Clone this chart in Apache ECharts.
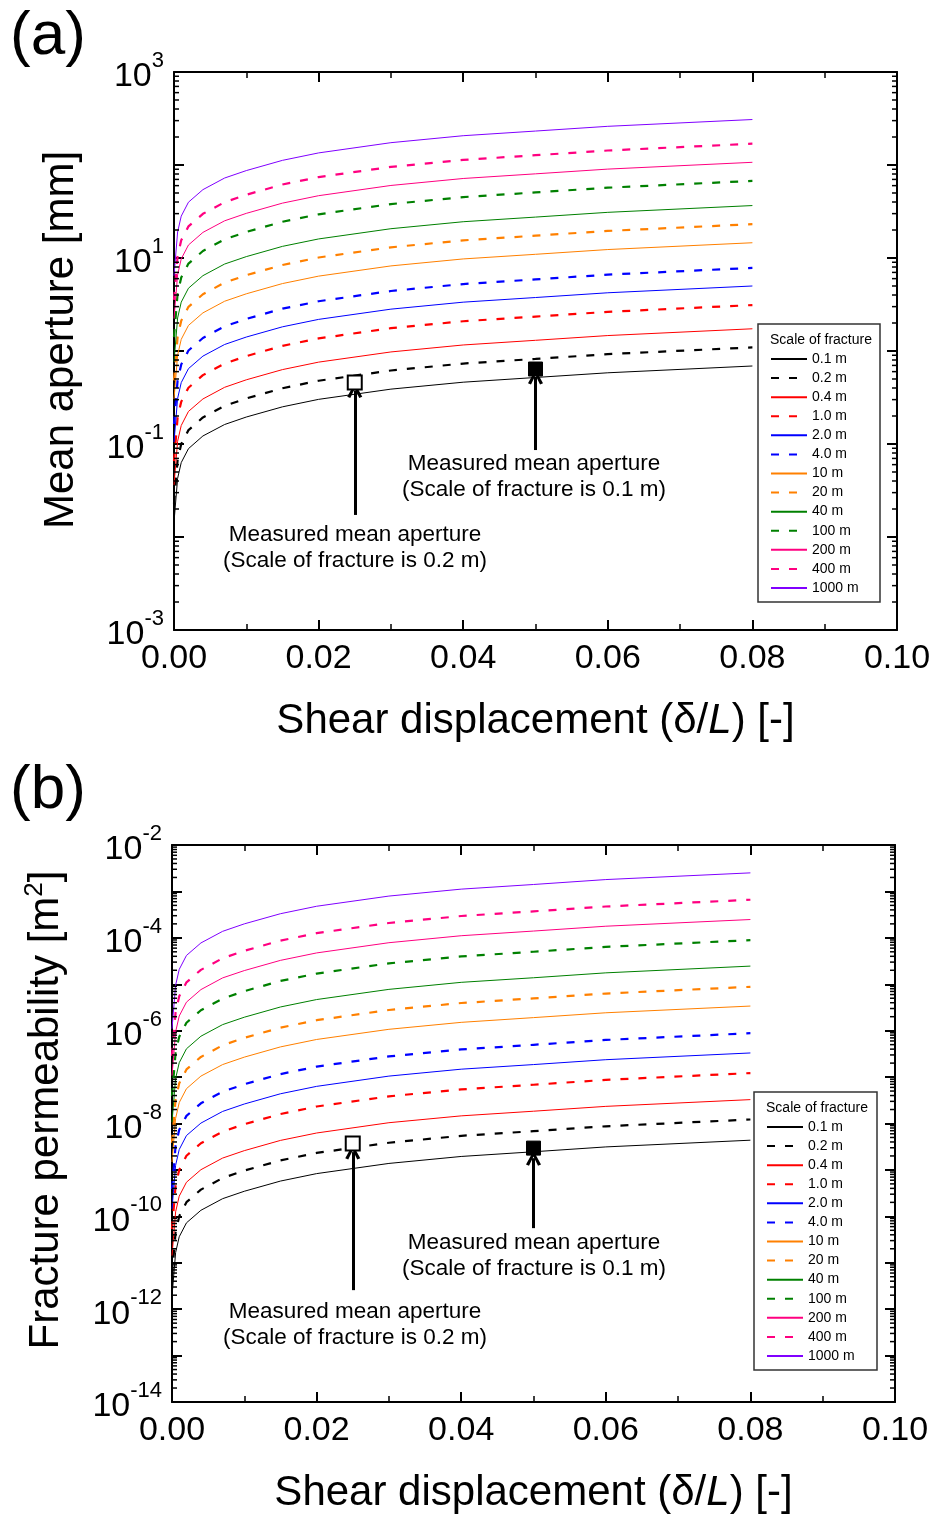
<!DOCTYPE html>
<html>
<head>
<meta charset="utf-8">
<script src="https://cdn.jsdelivr.net/npm/echarts@6/dist/echarts.min.js"></script>
<style>
  html, body { margin: 0; padding: 0; background: #fff; }
  #chart { width: 935px; height: 1517px; }
</style>
</head>
<body>
<div id="chart"></div>
<script>
// Normalised shear displacement (delta / L) at which each curve is sampled
const shearDisplacement = [0, 0.0005, 0.001, 0.002, 0.004, 0.007, 0.01, 0.015, 0.02, 0.03, 0.04, 0.05, 0.06, 0.08];

// Fracture scales shown in the legend
const fractureScales = ['0.1 m', '0.2 m', '0.4 m', '1.0 m', '2.0 m', '4.0 m', '10 m', '20 m', '40 m', '100 m', '200 m', '400 m', '1000 m'];

// Mean aperture [mm] for each fracture scale
const aperture01m  = [0.0145, 0.0427, 0.0631, 0.0891, 0.122, 0.162, 0.195, 0.251, 0.302, 0.389, 0.462, 0.519, 0.583, 0.690];
const aperture02m  = [0.0229, 0.0676, 0.100, 0.141, 0.193, 0.257, 0.309, 0.398, 0.479, 0.617, 0.733, 0.822, 0.925, 1.094];
const aperture04m  = [0.0363, 0.107, 0.158, 0.224, 0.305, 0.407, 0.490, 0.631, 0.759, 0.977, 1.161, 1.303, 1.466, 1.734];
const aperture1m   = [0.0653, 0.193, 0.285, 0.403, 0.550, 0.733, 0.881, 1.135, 1.365, 1.758, 2.089, 2.344, 2.636, 3.119];
const aperture2m   = [0.105, 0.309, 0.457, 0.646, 0.881, 1.175, 1.413, 1.820, 2.188, 2.818, 3.350, 3.758, 4.227, 5.000];
const aperture4m   = [0.164, 0.484, 0.716, 1.012, 1.380, 1.841, 2.213, 2.851, 3.428, 4.416, 5.248, 5.888, 6.622, 7.834];
const aperture10m  = [0.305, 0.902, 1.334, 1.884, 2.570, 3.428, 4.121, 5.309, 6.383, 8.222, 9.772, 10.96, 12.33, 14.59];
const aperture20m  = [0.484, 1.429, 2.113, 2.985, 4.074, 5.433, 6.531, 8.414, 10.12, 13.03, 15.49, 17.38, 19.54, 23.12];
const aperture40m  = [0.767, 2.265, 3.350, 4.732, 6.457, 8.610, 10.35, 13.34, 16.03, 20.65, 24.55, 27.54, 30.97, 36.64];
const aperture100m = [1.413, 4.169, 6.166, 8.710, 11.89, 15.85, 19.05, 24.55, 29.51, 38.02, 45.19, 50.70, 57.02, 67.45];
const aperture200m = [2.239, 6.607, 9.772, 13.80, 18.84, 25.12, 30.20, 38.90, 46.77, 60.26, 71.61, 80.35, 90.36, 106.9];
const aperture400m = [3.548, 10.47, 15.49, 21.88, 29.85, 39.81, 47.86, 61.66, 74.13, 95.50, 113.5, 127.4, 143.2, 169.4];
const aperture1000m = [6.457, 19.05, 28.18, 39.81, 54.33, 72.44, 87.10, 112.2, 134.9, 173.8, 206.5, 231.7, 260.6, 308.3];

// Fracture permeability [m^2] for each fracture scale
const permeability01m  = [1.91e-12, 1.66e-11, 3.63e-11, 7.24e-11, 1.35e-10, 2.40e-10, 3.47e-10, 5.75e-10, 8.32e-10, 1.38e-9, 1.95e-9, 2.46e-9, 3.13e-9, 4.37e-9];
const permeability02m  = [5.31e-12, 4.62e-11, 1.01e-10, 2.02e-10, 3.76e-10, 6.68e-10, 9.66e-10, 1.60e-9, 2.32e-9, 3.85e-9, 5.43e-9, 6.84e-9, 8.71e-9, 1.22e-8];
const permeability04m  = [1.43e-11, 1.25e-10, 2.72e-10, 5.43e-10, 1.01e-9, 1.80e-9, 2.60e-9, 4.32e-9, 6.24e-9, 1.04e-8, 1.46e-8, 1.84e-8, 2.34e-8, 3.27e-8];
const permeability1m   = [5.31e-11, 4.62e-10, 1.01e-9, 2.02e-9, 3.76e-9, 6.68e-9, 9.66e-9, 1.60e-8, 2.32e-8, 3.85e-8, 5.43e-8, 6.84e-8, 8.71e-8, 1.22e-7];
const permeability2m   = [1.45e-10, 1.26e-9, 2.75e-9, 5.50e-9, 1.02e-8, 1.82e-8, 2.63e-8, 4.37e-8, 6.31e-8, 1.05e-7, 1.48e-7, 1.86e-7, 2.37e-7, 3.31e-7];
const permeability4m   = [3.85e-10, 3.35e-9, 7.33e-9, 1.46e-8, 2.72e-8, 4.84e-8, 7.00e-8, 1.16e-7, 1.68e-7, 2.79e-7, 3.94e-7, 4.96e-7, 6.31e-7, 8.81e-7];
const permeability10m  = [1.48e-9, 1.29e-8, 2.82e-8, 5.62e-8, 1.05e-7, 1.86e-7, 2.69e-7, 4.47e-7, 6.46e-7, 1.07e-6, 1.51e-6, 1.91e-6, 2.43e-6, 3.39e-6];
const permeability20m  = [3.85e-9, 3.35e-8, 7.33e-8, 1.46e-7, 2.72e-7, 4.84e-7, 7.00e-7, 1.16e-6, 1.68e-6, 2.79e-6, 3.94e-6, 4.96e-6, 6.31e-6, 8.81e-6];
const permeability40m  = [1.07e-8, 9.33e-8, 2.04e-7, 4.07e-7, 7.59e-7, 1.35e-6, 1.95e-6, 3.24e-6, 4.68e-6, 7.76e-6, 1.10e-5, 1.38e-5, 1.76e-5, 2.46e-5];
const permeability100m = [3.89e-8, 3.39e-7, 7.41e-7, 1.48e-6, 2.75e-6, 4.90e-6, 7.08e-6, 1.18e-5, 1.70e-5, 2.82e-5, 3.98e-5, 5.01e-5, 6.38e-5, 8.91e-5];
const permeability200m = [1.08e-7, 9.44e-7, 2.07e-6, 4.12e-6, 7.67e-6, 1.37e-5, 1.97e-5, 3.27e-5, 4.73e-5, 7.85e-5, 1.11e-4, 1.40e-4, 1.78e-4, 2.48e-4];
const permeability400m = [2.88e-7, 2.51e-6, 5.50e-6, 1.10e-5, 2.04e-5, 3.63e-5, 5.25e-5, 8.71e-5, 1.26e-4, 2.09e-4, 2.95e-4, 3.72e-4, 4.73e-4, 6.61e-4];
const permeability1000m = [1.10e-6, 9.55e-6, 2.09e-5, 4.17e-5, 7.76e-5, 1.38e-4, 2.00e-4, 3.31e-4, 4.79e-4, 7.94e-4, 1.12e-3, 1.41e-3, 1.80e-3, 2.51e-3];

// Laboratory measurements: 0.2 m sample (open square) and 0.1 m sample (filled square)
const measuredShear = [0.025, 0.05];
const measuredApertureMm = [0.458, 0.640];
const measuredPermeability = [3.72e-9, 2.95e-9];

// Tick labels
const shearTickLabels = ['0.00', '0.02', '0.04', '0.06', '0.08', '0.10'];
// Minor log ticks inside each decade
const logMinorMultipliers = [2, 3, 4, 5, 6, 7, 8, 9];

const apertureSeries = [aperture01m, aperture02m, aperture04m, aperture1m, aperture2m, aperture4m, aperture10m,
  aperture20m, aperture40m, aperture100m, aperture200m, aperture400m, aperture1000m];
const permeabilitySeries = [permeability01m, permeability02m, permeability04m, permeability1m, permeability2m,
  permeability4m, permeability10m, permeability20m, permeability40m, permeability100m, permeability200m,
  permeability400m, permeability1000m];

const lineColors = ['#000000', '#000000', '#ff0000', '#ff0000', '#0000ff', '#0000ff', '#ff8000', '#ff8000',
  '#008000', '#008000', '#ff0080', '#ff0080', '#8000ff'];
const dashed = [false, true, false, true, false, true, false, true, false, true, false, true, false];

const FONT = "'Liberation Sans', Arial, Helvetica, sans-serif";

function curveSeries(valueSets, gridIdx) {
  return valueSets.map((vals, i) => ({
    name: fractureScales[i],
    type: 'line',
    xAxisIndex: gridIdx * 2,
    yAxisIndex: gridIdx * 2,
    data: shearDisplacement.map((x, j) => [x, vals[j]]),
    symbol: 'none',
    showSymbol: false,
    smooth: false,
    silent: true,
    z: 3,
    lineStyle: {
      color: lineColors[i],
      width: dashed[i] ? 2.2 : 1,
      type: dashed[i] ? [8, 10] : 'solid'
    },
    itemStyle: { color: lineColors[i] }
  }));
}

function xAxisPair(gridIdx) {
  const common = {
    type: 'value', gridIndex: gridIdx, min: 0, max: 0.1, interval: 0.02,
    axisLine: { show: true, onZero: false, lineStyle: { color: '#000', width: 2 } },
    axisTick: { show: true, inside: true, length: 10, lineStyle: { color: '#000', width: 2 } },
    minorTick: { show: true, splitNumber: 2, length: 6, lineStyle: { color: '#000', width: 1.5 } },
    splitLine: { show: false }, minorSplitLine: { show: false }
  };
  return [
    Object.assign({}, common, {
      position: 'bottom',
      axisLabel: {
        show: true, margin: 12, fontSize: 34, color: '#000', fontFamily: FONT,
        formatter: v => shearTickLabels[Math.round(v / 0.02)]
      },
      name: 'Shear displacement (δ/{i|L}) [-]',
      nameLocation: 'middle', nameGap: 70,
      nameTextStyle: {
        fontSize: 42, color: '#000', fontFamily: FONT,
        rich: { i: { fontSize: 42, fontStyle: 'italic', color: '#000', fontFamily: FONT } }
      }
    }),
    Object.assign({}, common, { position: 'top', axisLabel: { show: false } })
  ];
}

function yAxisPair(gridIdx, min, max, oddLabels, name, nameGap, namePad) {
  const common = {
    type: 'log', logBase: 10, gridIndex: gridIdx, min: min, max: max,
    interval: 1,
    splitNumber: Math.round(Math.log10(max / min)),
    axisLine: { show: true, onZero: false, lineStyle: { color: '#000', width: 2 } },
    axisTick: { show: true, inside: true, length: 10, lineStyle: { color: '#000', width: 2 } },
    minorTick: { show: false },
    splitLine: { show: false }, minorSplitLine: { show: false }
  };
  return [
    Object.assign({}, common, {
      position: 'left',
      axisLabel: {
        show: true, margin: 10, color: '#000', fontFamily: FONT,
        formatter: v => {
          const e = Math.round(Math.log10(v));
          const show = oddLabels ? (Math.abs(e) % 2 === 1) : (e % 2 === 0);
          return show ? '{b|10}{s|' + e + '}' : '';
        },
        rich: {
          b: { fontSize: 34, fontFamily: FONT, color: '#000', verticalAlign: 'bottom', lineHeight: 44 },
          s: { fontSize: 22, fontFamily: FONT, color: '#000', verticalAlign: 'top', lineHeight: 44 }
        }
      },
      name: name, nameLocation: 'middle', nameGap: nameGap,
      nameTextStyle: {
        fontSize: 42, color: '#000', fontFamily: FONT, padding: namePad,
        rich: { s: { fontSize: 26, fontFamily: FONT, color: '#000', verticalAlign: 'top', lineHeight: 48 } }
      }
    }),
    Object.assign({}, common, { position: 'right', axisLabel: { show: false } })
  ];
}

// Log-spaced minor ticks (2..9 x 10^k) on both vertical frame edges
function minorTickSeries(gridIdx, firstExp, lastExp) {
  const values = [];
  for (let e = firstExp; e < lastExp; e++) {
    logMinorMultipliers.forEach(m => values.push([0, m * Math.pow(10, e)]));
  }
  return {
    type: 'custom', xAxisIndex: gridIdx * 2, yAxisIndex: gridIdx * 2, silent: true, z: 4,
    data: values,
    clip: false,
    renderItem: (params, api) => {
      const v = api.value(1);
      const left = api.coord([0, v]);
      const right = api.coord([0.1, v]);
      const st = { stroke: '#000', lineWidth: 1.5 };
      return {
        type: 'group',
        children: [
          { type: 'line', shape: { x1: left[0], y1: left[1], x2: left[0] + 5, y2: left[1] }, style: st },
          { type: 'line', shape: { x1: right[0], y1: right[1], x2: right[0] - 5, y2: right[1] }, style: st }
        ]
      };
    }
  };
}

function measuredSeries(gridIdx, values) {
  const pts = measuredShear.map((x, i) => [x, values[i]]);
  return [
    {
      type: 'scatter', xAxisIndex: gridIdx * 2, yAxisIndex: gridIdx * 2, silent: true, z: 6,
      symbol: 'rect', symbolSize: 14,
      data: [pts[0]],
      itemStyle: { color: '#fff', borderColor: '#000', borderWidth: 2, opacity: 1 }
    },
    {
      type: 'scatter', xAxisIndex: gridIdx * 2, yAxisIndex: gridIdx * 2, silent: true, z: 6,
      symbol: 'rect', symbolSize: 14,
      data: [pts[1]],
      itemStyle: { color: '#000', borderColor: '#000', borderWidth: 1, opacity: 1 }
    }
  ];
}

// Arrow shafts pointing at the measured squares
const ARROW_HEAD = 'path://M0,11 L6,0 L12,11 L9.6,12 L6,4.6 L2.4,12 Z';
function arrowSeries(gridIdx, arrows) {
  return {
    type: 'line', xAxisIndex: gridIdx * 2, yAxisIndex: gridIdx * 2, data: [], silent: true, z: 5,
    markLine: {
      silent: true, animation: false,
      symbol: ['none', ARROW_HEAD], symbolSize: [15, 15],
      label: { show: false },
      lineStyle: { color: '#000', width: 3, type: 'solid' },
      data: arrows.map(a => [{ coord: [a[0], a[1]] }, { coord: [a[0], a[2]] }])
    }
  };
}

const grids = [
  { left: 174, top: 72, width: 723, height: 558 },
  { left: 172, top: 845, width: 723, height: 557 }
];

const legendBase = {
  orient: 'vertical', itemWidth: 36, itemHeight: 14, itemGap: 5.08, padding: 0,
  data: fractureScales, selectedMode: false,
  itemStyle: { opacity: 0 },
  textStyle: { fontSize: 14, color: '#000', fontFamily: FONT }
};

const noteStyle = { fontSize: 22.5, lineHeight: 26, fontFamily: FONT, fill: '#000', align: 'center', verticalAlign: 'top' };

const option = {
  animation: false,
  backgroundColor: '#fff',
  grid: grids,
  xAxis: [].concat(xAxisPair(0), xAxisPair(1)),
  yAxis: [].concat(
    yAxisPair(0, 1e-3, 1e3, true, 'Mean aperture [mm]', 92, [0, 0, 0, 22]),
    yAxisPair(1, 1e-14, 1e-2, false, 'Fracture permeability [m{s|2}]', 102, [0, 0, 0, 27])
  ),
  legend: [
    Object.assign({}, legendBase, { left: 770, top: 352 }),
    Object.assign({}, legendBase, { left: 766, top: 1120 })
  ],
  series: [].concat(
    curveSeries(apertureSeries, 0),
    curveSeries(permeabilitySeries, 1),
    [minorTickSeries(0, -3, 3), minorTickSeries(1, -14, -2)],
    measuredSeries(0, measuredApertureMm),
    measuredSeries(1, measuredPermeability),
    arrowSeries(0, [[0.025, 0.01726, 0.376], [0.05, 0.0861, 0.525]]),
    arrowSeries(1, [[0.025, 2.57e-12, 2.42e-9], [0.05, 5.57e-11, 1.79e-9]])
  ),
  graphic: [
    // panel letters
    { type: 'text', left: 10, top: 6, style: { text: '(a)', fontSize: 62, fontFamily: FONT, fill: '#000' } },
    { type: 'text', left: 10, top: 760, style: { text: '(b)', fontSize: 62, fontFamily: FONT, fill: '#000' } },
    // legend frames and headings
    { type: 'rect', shape: { x: 758, y: 324, width: 122, height: 278 }, style: { fill: '#fff', stroke: '#333', lineWidth: 1.5 }, z: 0 },
    { type: 'text', x: 821, y: 340, style: { text: 'Scale of fracture', fontSize: 14, fontFamily: FONT, fill: '#000', align: 'center', verticalAlign: 'middle' }, z: 10 },
    { type: 'rect', shape: { x: 754, y: 1092, width: 123, height: 278 }, style: { fill: '#fff', stroke: '#333', lineWidth: 1.5 }, z: 0 },
    { type: 'text', x: 817, y: 1108, style: { text: 'Scale of fracture', fontSize: 14, fontFamily: FONT, fill: '#000', align: 'center', verticalAlign: 'middle' }, z: 10 },
    // annotations
    { type: 'text', x: 534, y: 451, style: Object.assign({ text: 'Measured mean aperture\n(Scale of fracture is 0.1 m)' }, noteStyle), z: 10 },
    { type: 'text', x: 355, y: 522, style: Object.assign({ text: 'Measured mean aperture\n(Scale of fracture is 0.2 m)' }, noteStyle), z: 10 },
    { type: 'text', x: 534, y: 1230, style: Object.assign({ text: 'Measured mean aperture\n(Scale of fracture is 0.1 m)' }, noteStyle), z: 10 },
    { type: 'text', x: 355, y: 1299, style: Object.assign({ text: 'Measured mean aperture\n(Scale of fracture is 0.2 m)' }, noteStyle), z: 10 }
  ]
};

const chart = echarts.init(document.getElementById('chart'), null, { renderer: 'canvas' });
chart.setOption(option);
</script>
</body>
</html>
